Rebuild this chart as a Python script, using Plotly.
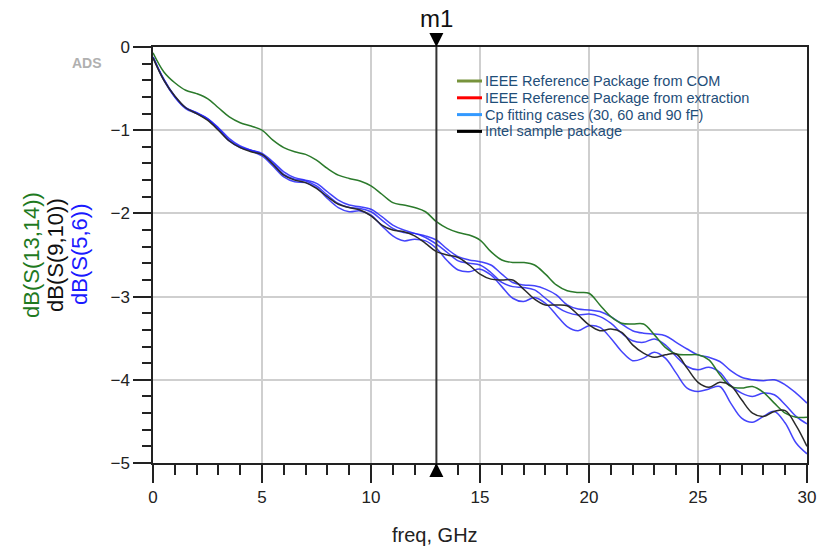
import plotly.graph_objects as go

# ---------------- data ----------------
freq_ghz = [0.0, 0.5, 1.0, 1.5, 2.0, 2.5, 3.0, 3.5, 4.0, 4.5, 5.0, 5.5, 6.0, 6.5, 7.0, 7.5,
            8.0, 8.5, 9.0, 9.5, 10.0, 10.5, 11.0, 11.5, 12.0, 12.5, 13.0, 13.5, 14.0, 14.5,
            15.0, 15.5, 16.0, 16.5, 17.0, 17.5, 18.0, 18.5, 19.0, 19.5, 20.0, 20.5, 21.0,
            21.5, 22.0, 22.5, 23.0, 23.5, 24.0, 24.5, 25.0, 25.5, 26.0, 26.5, 27.0, 27.5,
            28.0, 28.5, 29.0, 29.5, 30.0]

s13_14_db = [-0.07, -0.30, -0.43, -0.52, -0.56, -0.62, -0.73, -0.84, -0.91, -0.95, -1.00,
             -1.12, -1.21, -1.26, -1.29, -1.36, -1.46, -1.54, -1.58, -1.61, -1.67, -1.77,
             -1.87, -1.90, -1.93, -1.98, -2.10, -2.18, -2.23, -2.26, -2.32, -2.46, -2.56,
             -2.59, -2.59, -2.62, -2.73, -2.86, -2.93, -2.95, -2.96, -3.10, -3.24, -3.32,
             -3.33, -3.33, -3.46, -3.61, -3.69, -3.70, -3.70, -3.76, -3.94, -4.08, -4.10,
             -4.08, -4.15, -4.28, -4.40, -4.45, -4.45]

s9_10_db = [-0.13, -0.40, -0.59, -0.73, -0.80, -0.88, -1.00, -1.13, -1.21, -1.26, -1.29,
            -1.41, -1.54, -1.60, -1.63, -1.70, -1.80, -1.89, -1.93, -1.96, -2.03, -2.14,
            -2.20, -2.22, -2.27, -2.36, -2.46, -2.50, -2.53, -2.62, -2.73, -2.79, -2.80,
            -2.80, -2.91, -3.03, -3.10, -3.10, -3.11, -3.22, -3.34, -3.41, -3.39, -3.43,
            -3.58, -3.68, -3.73, -3.70, -3.69, -3.86, -4.03, -4.09, -4.03, -4.07, -4.24,
            -4.40, -4.44, -4.38, -4.37, -4.55, -4.80]

s5_6_cp30_db = [-0.12, -0.39, -0.59, -0.73, -0.79, -0.86, -0.97, -1.10, -1.19, -1.24, -1.28,
                -1.38, -1.50, -1.57, -1.60, -1.64, -1.74, -1.84, -1.90, -1.92, -1.95, -2.04,
                -2.14, -2.20, -2.24, -2.27, -2.32, -2.43, -2.52, -2.56, -2.58, -2.62, -2.73,
                -2.83, -2.86, -2.87, -2.91, -2.98, -3.10, -3.15, -3.16, -3.18, -3.24, -3.33,
                -3.41, -3.44, -3.45, -3.47, -3.55, -3.63, -3.70, -3.73, -3.78, -3.89, -3.97,
                -4.00, -4.01, -4.00, -4.06, -4.16, -4.28]

s5_6_cp60_db = [-0.12, -0.39, -0.60, -0.73, -0.79, -0.86, -0.98, -1.12, -1.20, -1.24, -1.29,
                -1.40, -1.53, -1.59, -1.61, -1.67, -1.78, -1.88, -1.93, -1.94, -1.98, -2.08,
                -2.18, -2.23, -2.24, -2.29, -2.37, -2.47, -2.57, -2.60, -2.62, -2.71, -2.83,
                -2.88, -2.89, -2.92, -3.02, -3.12, -3.19, -3.22, -3.21, -3.24, -3.32, -3.44,
                -3.53, -3.55, -3.51, -3.58, -3.72, -3.84, -3.88, -3.85, -3.91, -4.07, -4.16,
                -4.20, -4.16, -4.18, -4.30, -4.44, -4.53]

s5_6_cp90_db = [-0.12, -0.40, -0.60, -0.74, -0.80, -0.87, -0.99, -1.13, -1.21, -1.25, -1.31,
                -1.43, -1.56, -1.62, -1.63, -1.69, -1.82, -1.93, -1.98, -1.97, -2.02, -2.15,
                -2.27, -2.33, -2.31, -2.33, -2.42, -2.57, -2.68, -2.70, -2.67, -2.74, -2.88,
                -3.02, -3.06, -3.01, -3.08, -3.22, -3.36, -3.41, -3.35, -3.37, -3.50, -3.66,
                -3.77, -3.74, -3.67, -3.74, -3.92, -4.10, -4.14, -4.11, -4.08, -4.28, -4.46,
                -4.51, -4.44, -4.38, -4.52, -4.76, -4.89]

marker_freq_ghz = 13.0
marker_name = "m1"

x_tick_values = [0, 5, 10, 15, 20, 25, 30]
y_tick_values = [0, -1, -2, -3, -4, -5]

y_label_texts = ["dB(S(13,14))", "dB(S(9,10))", "dB(S(5,6))"]
legend_labels = ["IEEE Reference Package from COM",
                 "IEEE Reference Package from extraction",
                 "Cp fitting cases (30, 60 and 90 fF)",
                 "Intel sample package"]

# ---------------- styles ----------------
GREEN = "#2b7a2b"
BLUE = "rgba(35,35,250,0.85)"
BLACK = "#2a2a2a"
FONT = "Liberation Sans, Arial, sans-serif"
y_label_colors = ["#1f7a1f", "#111111", "#1a1aff"]
y_label_centers_px = [31, 55, 79]
legend_colors = ["#77933C", "#FF0000", "#3399FF", "#000000"]
LEGEND_TEXT = "#1F4E79"

W, H = 828, 555
ML, MR, MT, MB = 153, 21, 47, 92
PW, PH = W - ML - MR, H - MT - MB

fig = go.Figure()

for ys in (s5_6_cp30_db, s5_6_cp60_db, s5_6_cp90_db):
    fig.add_trace(go.Scatter(x=freq_ghz, y=ys, mode="lines",
                             line=dict(color=BLUE, width=1.5, shape="spline", smoothing=1.0),
                             showlegend=False, hoverinfo="skip"))
fig.add_trace(go.Scatter(x=freq_ghz, y=s13_14_db, mode="lines",
                         line=dict(color=GREEN, width=1.5, shape="spline", smoothing=1.0),
                         showlegend=False))
fig.add_trace(go.Scatter(x=freq_ghz, y=s9_10_db, mode="lines",
                         line=dict(color=BLACK, width=1.5, shape="spline", smoothing=1.0),
                         showlegend=False))

# marker line m1
fig.add_trace(go.Scatter(x=[marker_freq_ghz, marker_freq_ghz], y=[0, -5], mode="lines",
                         line=dict(color="#333333", width=2), showlegend=False, hoverinfo="skip"))

# marker triangles (pixel sized, anchored to the marker frequency)
fig.add_shape(type="path", xref="x", yref="paper", xsizemode="pixel", ysizemode="pixel",
              xanchor=marker_freq_ghz, yanchor=1, path="M -7 14 L 7 14 L 0 0 Z",
              fillcolor="black", line=dict(width=0), layer="above")
fig.add_shape(type="path", xref="x", yref="paper", xsizemode="pixel", ysizemode="pixel",
              xanchor=marker_freq_ghz, yanchor=0, path="M -7 -14 L 7 -14 L 0 0 Z",
              fillcolor="black", line=dict(width=0), layer="above")

fig.add_annotation(x=marker_freq_ghz, xref="x", y=1, yref="paper", yanchor="bottom",
                   yshift=13, text=marker_name, showarrow=False,
                   font=dict(family=FONT, size=24, color="#111111"))

# ADS tag
fig.add_annotation(x=0, xref="paper", xanchor="center", xshift=87 - ML,
                   y=1, yref="paper", yanchor="middle", yshift=-16,
                   text="<b>ADS</b>", showarrow=False,
                   font=dict(family=FONT, size=14, color="#b0b0b0"))

# y-axis labels (three coloured rotated lines)
for txt, col, cx in zip(y_label_texts, y_label_colors, y_label_centers_px):
    fig.add_annotation(x=0, xref="paper", xanchor="center", xshift=cx - ML,
                       y=(H - MB - 255) / PH, yref="paper", yanchor="middle",
                       text=txt, textangle=-90, showarrow=False,
                       font=dict(family=FONT, size=22, color=col))

# x-axis title
fig.add_annotation(x=(435 - ML) / PW, xref="paper", xanchor="center",
                   y=0, yref="paper", yanchor="middle", yshift=-72,
                   text="freq, GHz", showarrow=False,
                   font=dict(family=FONT, size=20, color="#222222"))

# legend (drawn as an overlay)
for i, (lab, col) in enumerate(zip(legend_labels, legend_colors)):
    ypix = 81 + i * 16.8
    yp = 1 - (ypix - MT) / PH
    fig.add_shape(type="line", xref="paper", yref="paper",
                  x0=(457 - ML) / PW, x1=(482 - ML) / PW, y0=yp, y1=yp,
                  line=dict(color=col, width=3))
    fig.add_annotation(x=(483 - ML) / PW, xref="paper", y=yp, yref="paper",
                       xanchor="left", yanchor="middle", text=lab, showarrow=False,
                       font=dict(family=FONT, size=14.5, color=LEGEND_TEXT))

axis_common = dict(showline=True, linecolor="#222222", linewidth=1.5, mirror=True,
                   showgrid=True, gridcolor="#cfcfcf", gridwidth=1.5, zeroline=False,
                   ticks="outside", tickcolor="#222222", tickwidth=1.5, ticklen=18,
                   tickfont=dict(family=FONT, size=17, color="#222222"))

fig.update_xaxes(range=[0, 30], tickvals=x_tick_values, **axis_common,
                 minor=dict(dtick=1, ticks="outside", ticklen=10, tickcolor="#222222",
                            tickwidth=1.5, showgrid=False))
fig.update_yaxes(range=[-5, 0], tickvals=y_tick_values, **axis_common,
                 minor=dict(dtick=0.2, ticks="outside", ticklen=9, tickcolor="#222222",
                            tickwidth=1.5, showgrid=False))

fig.update_layout(width=W, height=H, margin=dict(l=ML, r=MR, t=MT, b=MB),
                  plot_bgcolor="white", paper_bgcolor="white", showlegend=False)

fig.write_html("out.html")
